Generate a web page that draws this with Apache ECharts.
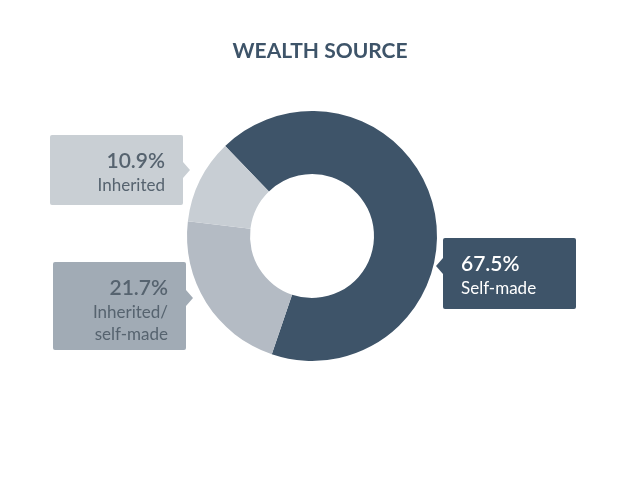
<!DOCTYPE html>
<html>
<head>
<meta charset="utf-8">
<title>Wealth source</title>
<script src="https://cdn.jsdelivr.net/npm/echarts@6/dist/echarts.min.js"></script>
<style>
html,body{margin:0;padding:0;background:#fff;}
#chart{width:640px;height:502px;}
</style>
</head>
<body>
<div id="chart"></div>
<script>
// data
var names = ['Self-made', 'Inherited/\nself-made', 'Inherited'];
var values = [67.5, 21.7, 10.9];
var sliceColors = ['#3e5469', '#b4bbc4', '#c8ced4'];
var boxColors = ['#3e5469', '#a1abb5', '#c9cfd4'];
var textColors = ['#ffffff', '#56636f', '#56636f'];

var myChart = echarts.init(document.getElementById('chart'));

// label box spots: [x, y, align, height]
var spots = [
    [443, 238, 'left', 71],
    [186, 262, 'right', 88],
    [183, 135, 'right', 70]
];

var dataList = [];
for (var i = 0; i < values.length; i++) {
    dataList.push({
        name: names[i],
        value: values[i],
        itemStyle: {color: sliceColors[i]},
        label: {
            backgroundColor: boxColors[i],
            align: spots[i][2],
            height: spots[i][3] - 24,
            rich: {
                p: {fontSize: 21, fontWeight: 600, color: textColors[i], lineHeight: 28, align: spots[i][2], fontFamily: 'Lato'},
                n: {fontSize: 17, color: textColors[i], lineHeight: 22, align: spots[i][2], fontFamily: 'Lato'}
            }
        }
    });
}

var option = {
    title: {
        text: 'WEALTH SOURCE',
        left: 'center',
        top: 36,
        textStyle: {fontFamily: 'Lato', fontSize: 21, fontWeight: 'bold', color: '#3e5469'}
    },
    graphic: [
        {type: 'polygon', shape: {points: [[443, 258], [436, 266], [443, 274]]}, style: {fill: boxColors[0]}},
        {type: 'polygon', shape: {points: [[186, 290], [193, 298], [186, 306]]}, style: {fill: boxColors[1]}},
        {type: 'polygon', shape: {points: [[183, 162], [190, 170], [183, 178]]}, style: {fill: boxColors[2]}}
    ],
    series: [{
        type: 'pie',
        radius: [62, 125],
        center: [312, 236],
        startAngle: 134,
        clockwise: true,
        silent: true,
        label: {
            show: true,
            width: 97,
            padding: [12, 18, 12, 18],
            borderRadius: 2,
            formatter: function (p) {
                return '{p|' + p.value.toFixed(1) + '%}\n{n|' + p.name.split('\n').join('}\n{n|') + '}';
            }
        },
        labelLine: {show: false},
        labelLayout: function (params) {
            var s = spots[params.dataIndex];
            return {x: s[2] == 'left' ? s[0] : s[0], y: s[1], align: s[2], verticalAlign: 'top'};
        },
        data: dataList
    }]
};
myChart.setOption(option);
</script>
</body>
</html>
